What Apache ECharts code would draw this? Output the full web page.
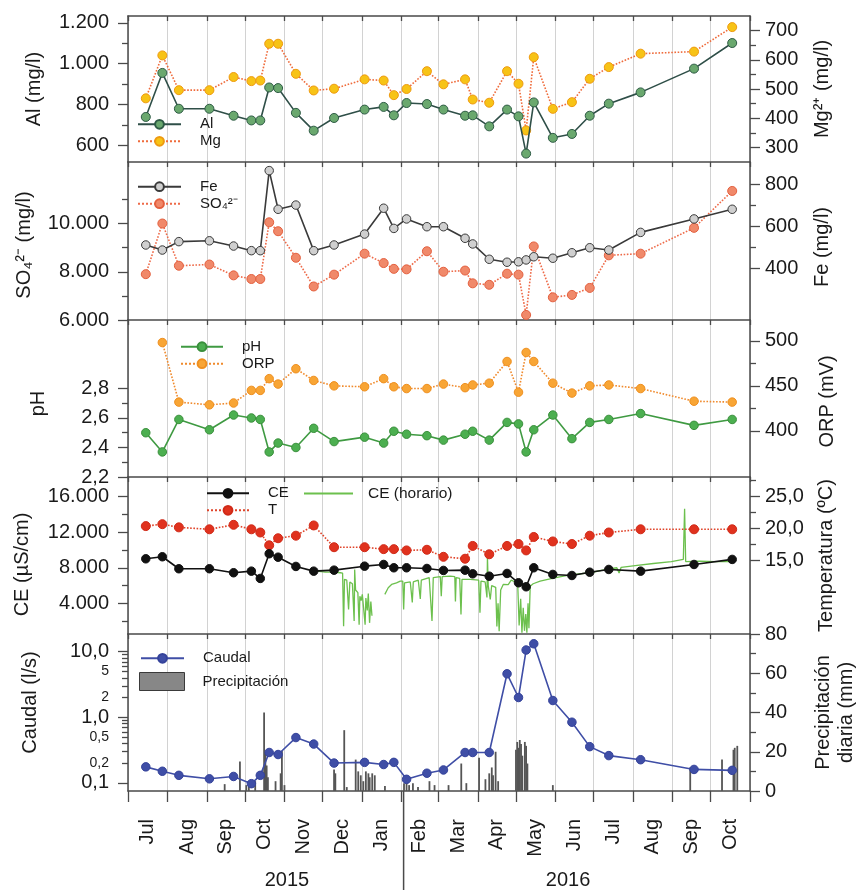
<!DOCTYPE html>
<html><head><meta charset="utf-8">
<script src="https://cdn.jsdelivr.net/npm/echarts@6/dist/echarts.min.js"></script>
<style>html,body{margin:0;padding:0;background:#fff}#c{width:860px;height:890px}</style>
</head><body><div id="c"></div>
<script>
const FONT = '"Liberation Sans", Arial, Helvetica, sans-serif';
const AX = '#4a4a4a';
const TXT = '#1a1a1a';

// ---------- axis ticks / labels ----------
const monthLabels = ['Jul','Aug','Sep','Oct','Nov','Dec','Jan','Feb','Mar','Apr','May','Jun','Jul','Aug','Sep','Oct'];
const monthStarts = ['2015-07-01','2015-08-01','2015-09-01','2015-10-01','2015-11-01','2015-12-01','2016-01-01','2016-02-01','2016-03-01','2016-04-01','2016-05-01','2016-06-01','2016-07-01','2016-08-01','2016-09-01','2016-10-01','2016-11-01'];
const yearLabels = ['2015','2016'];
const yearLabelAt = ['2015-11-03','2016-06-11'];
const yearBoundary = '2016-02-02 16:00';

// ---------- sampling campaigns ----------
const sampleDates = ['2015-07-15','2015-07-28','2015-08-10','2015-09-03','2015-09-22','2015-10-06','2015-10-13','2015-10-20','2015-10-27','2015-11-10','2015-11-24','2015-12-10','2016-01-03','2016-01-18','2016-01-26','2016-02-05','2016-02-21','2016-03-05','2016-03-22','2016-03-28','2016-04-10','2016-04-24','2016-05-03','2016-05-09','2016-05-15','2016-05-30','2016-06-14','2016-06-28','2016-07-13','2016-08-07','2016-09-18','2016-10-18'];
const al = [740,955,780,780,746,723,723,884,881,760,673,735,776,789,748,808,803,776,746,748,694,776,743,561,811,638,657,746,805,860,976,1101];
const mg = [468,615,496,496,541,527,529,655,655,552,495,501,533,529,479,500,561,516,533,464,453,561,518,358,609,432,455,535,575,621,628,712];
const fe = [511,487,527,531,506,484,484,865,681,701,484,511,563,686,590,635,598,598,543,516,443,429,431,440,455,448,474,498,487,571,635,681];
const so4 = [7900,10000,8250,8300,7850,7700,7700,10050,9680,8580,7390,7880,8750,8360,8120,8100,8850,8000,8050,7520,7460,7920,7880,6210,9050,6940,7040,7330,8680,8750,9820,11350];
const ph = [2.50,2.37,2.59,2.52,2.62,2.60,2.59,2.37,2.43,2.40,2.53,2.44,2.47,2.43,2.51,2.49,2.48,2.45,2.49,2.51,2.45,2.57,2.56,2.37,2.52,2.62,2.46,2.57,2.59,2.63,2.55,2.59];
const orp = [null,498,432,429,431,445,445,458,452,469,456,450,449,458,449,447,447,452,448,451,453,477,443,487,477,453,442,450,451,447,433,432];
const ce = [9010,9240,7890,7890,7440,7620,6800,9580,9190,8150,7620,7730,8180,8370,8000,8000,7920,7700,7730,7320,7050,7360,6310,5860,8000,7250,7130,7500,7810,7620,8370,8940];
const temp = [20.3,20.6,20.1,19.8,20.5,19.8,19.3,17.3,18.4,18.8,20.4,17.0,17.0,16.7,16.7,16.5,16.6,15.5,15.2,17.2,15.9,17.2,17.5,16.5,18.6,17.9,17.5,18.8,19.3,19.8,19.8,19.8];
const caudal = [0.175,0.15,0.13,0.115,0.125,0.097,0.13,0.29,0.27,0.49,0.39,0.20,0.205,0.19,0.205,0.113,0.14,0.157,0.29,0.29,0.29,4.6,2.0,10.6,13.2,1.8,0.84,0.356,0.26,0.225,0.16,0.155];

// ---------- hourly electrical conductivity ----------
const ceHourly = [
['2015-11-26 14:00',7620],['2015-12-03 02:00',7500],['2015-12-09 10:00',7520],['2015-12-14 22:00',7440],['2015-12-16 17:00',7400],['2015-12-17 12:00',1420],['2015-12-18 05:00',6700],['2015-12-20 00:00',6600],['2015-12-21 10:00',3300],['2015-12-22 10:00',6400],['2015-12-24 10:00',6200],['2015-12-25 19:00',2000],['2015-12-26 05:00',7800],['2015-12-26 22:00',5500],['2015-12-28 17:00',5200],['2015-12-29 17:00',1600],['2015-12-30 07:00',4800],['2015-12-31 07:00',4300],['2016-01-01 05:00',5000],['2016-01-03 10:00',1600],['2016-01-04 00:00',4600],['2016-01-05 02:00',3200],['2016-01-05 22:00',5100],['2016-01-06 22:00',1800],['2016-01-07 22:00',4200],['2016-01-08 19:00',2600],
['2016-01-13 00:00',null],
['2016-01-18 22:00',5000],['2016-01-21 14:00',5750],['2016-01-24 05:00',6120],['2016-01-28 02:00',6300],['2016-01-31 02:00',6490],['2016-02-02 00:00',6500],['2016-02-02 17:00',3300],['2016-02-03 10:00',6300],['2016-02-07 22:00',6400],['2016-02-09 12:00',4100],['2016-02-10 07:00',6400],['2016-02-14 05:00',6600],['2016-02-15 19:00',4500],['2016-02-16 14:00',6600],['2016-02-22 19:00',6900],['2016-02-25 00:00',2000],['2016-02-26 00:00',6900],['2016-03-02 12:00',7000],['2016-03-03 07:00',4800],['2016-03-04 00:00',7000],['2016-03-10 07:00',7050],['2016-03-13 22:00',7000],['2016-03-14 10:00',4200],['2016-03-15 00:00',6900],['2016-03-17 19:00',6800],['2016-03-18 19:00',2740],['2016-03-19 14:00',6700],['2016-03-26 00:00',6700],['2016-04-01 17:00',6600],['2016-04-02 17:00',2930],['2016-04-03 12:00',6500],['2016-04-06 19:00',6400],['2016-04-08 05:00',4650],['2016-04-08 14:00',9240],['2016-04-09 05:00',6000],['2016-04-10 19:00',4430],['2016-04-11 22:00',6000],['2016-04-15 02:00',5800],['2016-04-16 00:00',1400],['2016-04-16 22:00',4000],['2016-04-17 19:00',860],['2016-04-19 00:00',5500],['2016-04-21 00:00',6120],['2016-04-24 22:00',6100],['2016-04-27 07:00',6600],['2016-04-30 10:00',6400],['2016-05-02 10:00',6000],['2016-05-03 12:00',1500],['2016-05-04 17:00',4500],['2016-05-05 17:00',680],['2016-05-06 17:00',3500],['2016-05-07 17:00',900],['2016-05-08 17:00',2800],['2016-05-09 14:00',700],['2016-05-10 12:00',4000],['2016-05-11 05:00',1200],['2016-05-12 05:00',5930],['2016-05-14 12:00',6200],['2016-05-20 00:00',6500],['2016-05-31 07:00',6870],['2016-06-12 14:00',7200],['2016-06-28 07:00',7440],['2016-07-10 02:00',7800],['2016-07-19 07:00',8000],['2016-07-21 02:00',7400],['2016-07-22 17:00',8050],['2016-08-02 17:00',8250],['2016-08-17 00:00',8480],['2016-08-31 05:00',8700],['2016-09-09 14:00',8940],['2016-09-10 14:00',14640],['2016-09-11 10:00',8700],['2016-09-22 17:00',8750],['2016-10-04 12:00',8700],['2016-10-16 07:00',8700]
];

// ---------- daily precipitation ----------
const precipDates = ['2015-09-15','2015-09-27','2015-10-02','2015-10-04','2015-10-09','2015-10-16','2015-10-17','2015-10-18','2015-10-19','2015-10-25','2015-10-29','2015-10-30','2015-11-01','2015-12-10','2015-12-11','2015-12-18','2015-12-20','2015-12-27','2015-12-29','2015-12-31','2016-01-02','2016-01-04','2016-01-06','2016-01-07','2016-01-09','2016-01-11','2016-01-19','2016-02-03','2016-02-05','2016-02-07','2016-02-10','2016-02-14','2016-02-23','2016-02-27','2016-03-09','2016-03-19','2016-03-23','2016-04-02','2016-04-07','2016-04-10','2016-04-12','2016-04-13','2016-04-15','2016-04-17','2016-05-01','2016-05-02','2016-05-03','2016-05-04','2016-05-05','2016-05-06','2016-05-08','2016-05-09','2016-05-10','2016-05-30','2016-09-15','2016-10-10','2016-10-19','2016-10-20','2016-10-22'];
const precipMM = [3.5,15,3,4,5,40,19,13,7,5,9,20.5,3,11,9,31,2,16,10,8,5,10,9,7,9,8,2.5,4,6,3,4,2,5,3,3,14,4,17,6,9,12,8,20,5,21,25,22,26,24,18,25,23,14,3,12,16,21,22,23];

// ---------- y-axis ticks ----------
const alTicks = [600,800,1000,1200], alLabels = ['600','800','1.000','1.200'], alMinor = [700,900,1100];
const mgTicks = [300,400,500,600,700], mgLabels = ['300','400','500','600','700'], mgMinor = [350,450,550,650];
const so4Ticks = [6000,8000,10000], so4Labels = ['6.000','8.000','10.000'], so4Minor = [7000,9000,11000];
const feTicks = [400,600,800], feLabels = ['400','600','800'], feMinor = [500,700];
const phTicks = [2.2,2.4,2.6,2.8], phLabels = ['2,2','2,4','2,6','2,8'], phMinor = [2.3,2.5,2.7];
const orpTicks = [400,450,500], orpLabels = ['400','450','500'], orpMinor = [425,475];
const ceTicks = [4000,8000,12000,16000], ceLabels = ['4.000','8.000','12.000','16.000'], ceMinor = [2000,6000,10000,14000];
const tTicks = [15,20,25], tLabels = ['15,0','20,0','25,0'], tMinor = [17.5,22.5,27.5];
const qTicks = [0.1,0.2,0.5,1,2,5,10], qLabels = ['0,1','0,2','0,5','1,0','2','5','10,0'], qMajor = [0.1,1,10];
const qMinor = [0.2,0.3,0.4,0.5,0.6,0.7,0.8,0.9,2,3,4,5,6,7,8,9];
const pTicks = [0,20,40,60,80], pLabels = ['0','20','40','60','80'], pMinor = [10,30,50,70];

// ---------- helpers ----------
const T0 = Date.UTC(2015,6,1);
function dayOf(s){
  const parts = s.split(' ');
  const [y,m,d] = parts[0].split('-').map(Number);
  const h = parts[1] ? Number(parts[1].split(':')[0]) : 0;
  return (Date.UTC(y,m-1,d,h) - T0) / 86400000;
}
const startDays = monthStarts.map(dayOf);
const midDays = monthLabels.map((_, i) => (startDays[i] + startDays[i+1]) / 2);
const XMAX = startDays[startDays.length - 1];

const gridTops = [16,162,320,477,634];
const gridHeights = [146,158,157,157,157];

function pick(vals, labs){
  return v => { const i = vals.findIndex(t => Math.abs(t - v) < 1e-6 * Math.max(1, Math.abs(t))); return i >= 0 ? labs[i] : ''; };
}
function axisPair(g, pos, min, max, major, labels, minor, name, nameGap, namePad){
  const main = {
    type:'value', gridIndex:g, position:pos, min:min, max:max,
    axisLine:{show:true, onZero:false, lineStyle:{color:AX, width:1.5}},
    axisTick:{show:true, inside:false, length:10, customValues:major, lineStyle:{color:AX, width:1.3}},
    axisLabel:{show:true, customValues:major, margin: pos === 'left' ? 19 : 15, fontSize:20, color:TXT, fontFamily:FONT, formatter:pick(major, labels)},
    splitLine:{show:false},
    name:name, nameLocation:'middle', nameGap:nameGap, nameRotate:90,
    nameTextStyle:{fontSize:20, color:TXT, fontFamily:FONT, padding:namePad || 0, lineHeight:23}
  };
  const mn = {
    type:'value', gridIndex:g, position:pos, min:min, max:max,
    axisLine:{show:false, onZero:false}, axisLabel:{show:false}, splitLine:{show:false},
    axisTick:{show:true, inside:false, length:6, customValues:minor, lineStyle:{color:AX, width:1.3}}
  };
  return [main, mn];
}
const sd = sampleDates.map(dayOf);
const pairs = arr => sd.map((x, i) => [x, arr[i]]);

// ---------- axes ----------
const xAxes = gridTops.map((_, i) => ({
  type:'value', gridIndex:i, position:'top', min:0, max:XMAX,
  axisLine:{show:true, onZero:false, lineStyle:{color:AX, width:1.5}},
  axisTick:{show:true, inside:true, length:5, customValues:startDays, lineStyle:{color:AX, width:1.3}},
  axisLabel:{show:false},
  splitLine:{show:true, lineStyle:{color:'#d2d2d2', width:1}}
}));
xAxes.push({
  type:'value', gridIndex:4, position:'bottom', min:0, max:XMAX,
  axisLine:{show:true, onZero:false, lineStyle:{color:AX, width:1.5}},
  axisTick:{show:true, inside:false, length:11, customValues:startDays, lineStyle:{color:AX, width:1.3}},
  axisLabel:{show:true, customValues:midDays, rotate:90, margin:28, fontSize:20, color:TXT, fontFamily:FONT, formatter:pick(midDays, monthLabels)},
  splitLine:{show:false}
});

const qMin = 0.075, qMax = 18.6;
const yAxes = [].concat(
  axisPair(0,'left',520,1233,alTicks,alLabels,alMinor,'Al (mg/l)',82),
  axisPair(0,'right',250,750,mgTicks,mgLabels,mgMinor,'Mg²⁺ (mg/l)',61),
  axisPair(1,'left',6000,12550,so4Ticks,so4Labels,so4Minor,'SO₄²⁻ (mg/l)',92,[0,8,0,0]),
  axisPair(1,'right',154,906,feTicks,feLabels,feMinor,'Fe (mg/l)',61,[0,12,0,0]),
  axisPair(2,'left',2.2,3.264,phTicks,phLabels,phMinor,'pH',78,[0,10,0,0]),
  axisPair(2,'right',349,523,orpTicks,orpLabels,orpMinor,'ORP (mV)',66,[0,6,0,0]),
  axisPair(3,'left',544,18218,ceTicks,ceLabels,ceMinor,'CE (µS/cm)',94,[0,18,0,0]),
  axisPair(3,'right',3.44,27.97,tTicks,tLabels,tMinor,'Temperatura (ºC)',61),
  [{type:'log', logBase:10, gridIndex:4, position:'left', min:qMin, max:qMax, show:false, axisLine:{onZero:false}}],
  [{
    type:'value', gridIndex:4, position:'left', min:Math.log10(qMin), max:Math.log10(qMax),
    axisLine:{show:true, onZero:false, lineStyle:{color:AX, width:1.5}},
    axisTick:{show:true, length:10, customValues:qMajor.map(Math.log10), lineStyle:{color:AX, width:1.3}},
    axisLabel:{show:true, customValues:qTicks.map(Math.log10), margin:19, color:TXT, fontFamily:FONT,
      formatter: v => { const s = pick(qTicks.map(Math.log10), qLabels)(v); const big = qMajor.some(t => Math.abs(Math.log10(t) - v) < 1e-6); return big ? '{a|' + s + '}' : '{b|' + s + '}'; },
      rich:{a:{fontSize:20, fontFamily:FONT, color:TXT}, b:{fontSize:14, fontFamily:FONT, color:TXT}}},
    splitLine:{show:false},
    name:'Caudal (l/s)', nameLocation:'middle', nameGap:88, nameRotate:90,
    nameTextStyle:{fontSize:20, color:TXT, fontFamily:FONT, padding:[0,0,0,20]}
  },{
    type:'value', gridIndex:4, position:'left', min:Math.log10(qMin), max:Math.log10(qMax),
    axisLine:{show:false, onZero:false}, axisLabel:{show:false}, splitLine:{show:false},
    axisTick:{show:true, length:6, customValues:qMinor.map(Math.log10), lineStyle:{color:AX, width:1.3}}
  }],
  axisPair(4,'right',0,80,pTicks,pLabels,pMinor,'Precipitación\ndiaria (mm)',62)
);

// ---------- legends ----------
const legText = {fontSize:15, color:TXT, fontFamily:FONT, padding:[0,0,0,14]};
const legBase = {orient:'vertical', padding:0, itemGap:2, selectedMode:false, itemWidth:43, itemHeight:11, textStyle:legText};
const legends = [
  Object.assign({}, legBase, {data:['Al','Mg'], left:137, top:116.8}),
  Object.assign({}, legBase, {data:['Fe','SO₄²⁻'], left:137, top:179.2}),
  Object.assign({}, legBase, {data:['pH','ORP'], left:180, top:339.2, itemWidth:42}),
  Object.assign({}, legBase, {data:['CE','T'], left:206, top:485.8, itemWidth:42}),
  Object.assign({}, legBase, {data:[{name:'CE (horario)', icon:'rect'}], left:304, top:485.5, itemWidth:49, itemHeight:2, textStyle:Object.assign({}, legText, {fontSize:15.5, padding:[0,0,0,10]})}),
  Object.assign({}, legBase, {data:['Caudal'], left:140, top:650.8}),
  Object.assign({}, legBase, {data:[{name:'Precipitación', icon:'rect'}], left:139, top:672, itemWidth:45, itemHeight:18,
    itemStyle:{color:'#878787', borderColor:'#3a3a3a', borderWidth:1}, textStyle:Object.assign({}, legText, {padding:[0,0,0,13]})})
];

function lineSeries(name, xi, yi, data, lineColor, dotted, fill, border, size, z){
  return {
    name:name, type:'line', xAxisIndex:xi, yAxisIndex:yi, data:data,
    symbol:'circle', symbolSize:size, showSymbol:true, connectNulls:false,
    lineStyle:{color:lineColor, width:1.6, type: dotted ? 'dotted' : 'solid'},
    itemStyle:{color:fill, borderColor:border, borderWidth:1},
    emphasis:{disabled:true}, z:z || 3
  };
}

const series = [
  lineSeries('Mg', 0, 2, pairs(mg), '#ef6b3b', true, '#f7c316', '#ee9a10', 9, 3),
  lineSeries('Al', 0, 0, pairs(al), '#2f4f48', false, '#6aa86e', '#2e5b45', 9, 4),
  lineSeries('SO₄²⁻', 1, 4, pairs(so4), '#ee6a48', true, '#f0896a', '#e4603f', 9, 3),
  lineSeries('Fe', 1, 6, pairs(fe), '#3a3a3a', false, '#cfcfcf', '#3a3a3a', 8.5, 4),
  lineSeries('ORP', 2, 10, pairs(orp), '#f08a2c', true, '#f8a535', '#ef8f1f', 8.5, 3),
  lineSeries('pH', 2, 8, pairs(ph), '#3f9a42', false, '#4caf50', '#3a8f3c', 8.5, 4),
  {name:'CE (horario)', type:'line', xAxisIndex:3, yAxisIndex:12, data:ceHourly.map(p => [dayOf(p[0]), p[1]]),
    showSymbol:false, symbol:'none', connectNulls:false, lineStyle:{color:'#6cc04d', width:1.3}, itemStyle:{color:'#6cc04d'}, emphasis:{disabled:true}, z:2},
  lineSeries('T', 3, 14, pairs(temp), '#e0442a', true, '#e0321e', '#d02a18', 9, 3),
  lineSeries('CE', 3, 12, pairs(ce), '#111111', false, '#111111', '#111111', 8.5, 4),
  {name:'Precipitación', type:'custom', xAxisIndex:4, yAxisIndex:19,
    data:precipDates.map((d, i) => [dayOf(d), precipMM[i]]),
    encode:{x:0, y:1},
    itemStyle:{color:'#555555'},
    renderItem:(params, api) => {
      const topP = api.coord([api.value(0), api.value(1)]);
      const baseP = api.coord([api.value(0), 0]);
      return {type:'rect', shape:{x:topP[0] - 0.9, y:topP[1], width:1.8, height:baseP[1] - topP[1]}, style:{fill:'#555555'}};
    },
    emphasis:{disabled:true}, z:2},
  lineSeries('Caudal', 4, 16, pairs(caudal), '#3f4ea6', false, '#3f4ea6', '#34429a', 8.5, 4)
];

const chart = echarts.init(document.getElementById('c'), null, {renderer:'canvas'});
chart.setOption({
  animation:false,
  backgroundColor:'#ffffff',
  textStyle:{fontFamily:FONT},
  grid: gridTops.map((t, i) => ({left:128, right:110, top:t, height:gridHeights[i], containLabel:false, outerBoundsMode:'none'})),
  xAxis: xAxes,
  yAxis: yAxes,
  legend: legends,
  series: series
});

// year separator and year labels, positioned through the bottom axis scale
const bottomY = gridTops[4] + gridHeights[4];
const px = d => chart.convertToPixel({xAxisIndex:5}, dayOf(d));
const sx = px(yearBoundary);
chart.setOption({graphic:[
  {type:'line', shape:{x1:sx, y1:bottomY, x2:sx, y2:890}, style:{stroke:AX, lineWidth:1.5}, silent:true},
  {type:'text', x:px(yearLabelAt[0]), y:880, style:{text:yearLabels[0], fontSize:20, fontFamily:FONT, fill:TXT, align:'center', verticalAlign:'middle'}, silent:true},
  {type:'text', x:px(yearLabelAt[1]), y:880, style:{text:yearLabels[1], fontSize:20, fontFamily:FONT, fill:TXT, align:'center', verticalAlign:'middle'}, silent:true}
]});
</script>
</body></html>
